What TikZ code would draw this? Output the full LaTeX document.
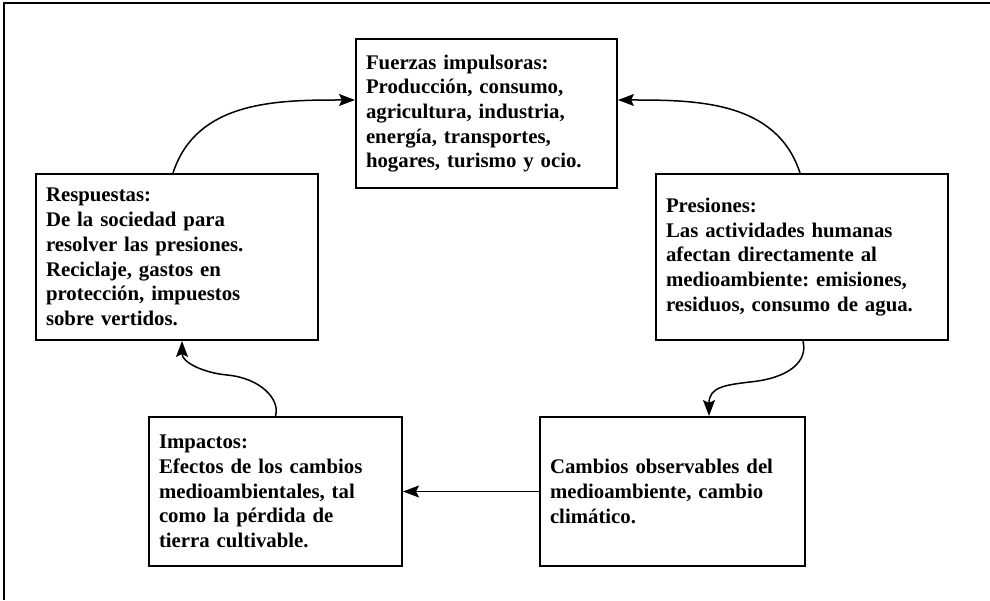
\documentclass[tikz,border=0pt]{standalone}
\usepackage{fontspec}
\setmainfont{Liberation Serif}
\usepackage{tikz}
\usetikzlibrary{arrows.meta}
\frenchspacing

\tikzset{
	caja/.style={draw, line width=2pt, align=left, inner xsep=10pt, inner ysep=0pt,
		font=\bfseries\fontsize{20.8}{24.7}\selectfont},
	flecha/.style={line width=1.5pt, -{Stealth[length=16pt,width=12pt,inset=3pt]}}
}

\begin{document}
\begin{tikzpicture}[x=1pt,y=1pt]
		\useasboundingbox (0,0) rectangle (990,600);
		\draw [line width=2pt] (4,0) -- (4,597) -- (990,597);
		
		\node [caja, minimum width=261, minimum height=149, text width=241] (fuer) at (486.5,486.5)
			{Fuerzas impulsoras:\\ Producción, consumo,\\ agricultura, industria,\\ energía, transportes,\\ hogares, turismo y ocio.};
		\node [caja, minimum width=282, minimum height=166, text width=262] (resp) at (177,343)
			{Respuestas:\\ De la sociedad para\\ resolver las presiones.\\ Reciclaje, gastos en\\ protección, impuestos\\ sobre vertidos.};
		\node [caja, minimum width=292, minimum height=166, text width=272] (pres) at (802,343)
			{Presiones:\\ Las actividades humanas\\ afectan directamente al\\ medioambiente: emisiones,\\ residuos, consumo de agua.};
		\node [caja, minimum width=253, minimum height=149, text width=233] (imp) at (275.5,108.5)
			{Impactos:\\ Efectos de los cambios\\ medioambientales, tal\\ como la pérdida de\\ tierra cultivable.};
		\node [caja, minimum width=265, minimum height=149, text width=245] (camb) at (672.5,108.5)
			{Cambios observables del\\ medioambiente, cambio\\ climático.};
		
		\draw [flecha] ([xshift=-4pt]resp.north) to[out=72, in=180] ([yshift=13.5pt]fuer.west);
		\draw [flecha] ([xshift=-2pt]pres.north) to[out=108, in=0] ([yshift=13.5pt]fuer.east);
		\draw [flecha] ([xshift=1pt]pres.south) .. controls +(5,-20) and +(40,4) .. (750,218)
			.. controls +(-25,-3) and +(0,29) .. ([xshift=36.5pt]camb.north);
		\draw [flecha] (camb.west) -- (imp.east);
		\draw [flecha] (imp.north) .. controls +(5,17) and +(33,-3) .. (227,225)
			.. controls +(-22,2) and +(0,-22) .. ([xshift=5pt]resp.south);
	\end{tikzpicture}
\end{document}
